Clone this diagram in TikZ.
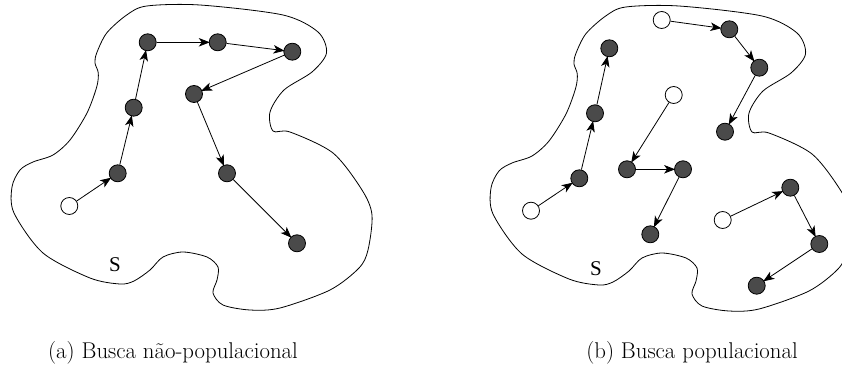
\documentclass[tikz,border=0pt]{standalone}
\usepackage{fontspec}
\newfontfamily\labelfont{Liberation Serif}
\usetikzlibrary{arrows.meta}
\definecolor{dotgray}{HTML}{4A4A4A}
\tikzset{
  sol/.style={circle, draw=black, line width=0.8pt, minimum size=17pt, inner sep=0pt},
  visited/.style={sol, fill=dotgray},
  seed/.style={sol, fill=white},
  move/.style={-{Stealth[length=11pt,width=8.5pt,inset=3pt]}, line width=0.8pt, shorten >=-1pt},
  region/.style={line width=0.8pt},
  regionlabel/.style={font=\labelfont\fontsize{21}{21}\selectfont},
  caption/.style={font=\fontsize{22.8}{25}\selectfont, anchor=base}
}
% outline of the search space S
\newcommand{\searchspace}{
  plot[smooth cycle, tension=0.5] coordinates {
    (146.7,6) (200,5) (283,15) (318,32) (326.5,53) (312,72) (284,90) (270,112)
    (273,131) (290,132) (333,153) (362,190) (372,215) (368,250) (359,268)
    (330,290) (280,308) (250,310) (223,305) (213,293) (217,280) (218,267)
    (207,257) (183,252) (163,257) (150,270) (134,281) (120,284) (90,278)
    (43,253) (14,213) (12,187) (20,170) (33,162) (53,155) (70,140) (87,113)
    (96.7,87) (98.3,73) (95,63) (96.7,53) (106.7,33) (126.7,15)
  }
}
\begin{document}
\begin{tikzpicture}[x=1pt,y=-1pt]
  \useasboundingbox (0,0) rectangle (842,387);
  \begin{scope}
    \clip (0,0) rectangle (842,387);

    % (a) single trajectory
    \draw[region] \searchspace;
    \node[regionlabel] (sa) at (115,265) {S};
    \node[seed]    (p0) at (69.3,206) {};
    \node[visited] (p1) at (117.7,173.3) {};
    \node[visited] (p2) at (133.7,107.7) {};
    \node[visited] (p3) at (147.7,42.3) {};
    \node[visited] (p4) at (217.7,42.3) {};
    \node[visited] (p5) at (292.3,51.7) {};
    \node[visited] (p6) at (194,94) {};
    \node[visited] (p7) at (227,173.3) {};
    \node[visited] (p8) at (297,243.3) {};
    \foreach \a/\b in {p0/p1,p1/p2,p2/p3,p3/p4,p4/p5,p5/p6,p6/p7,p7/p8}
      \draw[move] (\a) -- (\b);

    % (b) population of trajectories
    \begin{scope}[shift={(479,1)}]
      \draw[region] \searchspace;
    \end{scope}
    \node[regionlabel] (sb) at (596,269) {S};

    \node[seed]    (q0) at (531,210.7) {};
    \node[visited] (q1) at (579.3,178.3) {};
    \node[visited] (q2) at (595,113.3) {};
    \node[visited] (q3) at (609.3,48.3) {};

    \node[seed]    (r0) at (661.7,20) {};
    \node[visited] (r1) at (729.3,29.3) {};
    \node[visited] (r2) at (759.3,67.7) {};
    \node[visited] (r3) at (725,131.7) {};

    \node[seed]    (s0) at (673.7,95) {};
    \node[visited] (s1) at (627,169.3) {};
    \node[visited] (s2) at (683,169.3) {};
    \node[visited] (s3) at (650.3,234.3) {};

    \node[seed]    (t0) at (722.7,220) {};
    \node[visited] (t1) at (790.3,187.7) {};
    \node[visited] (t2) at (819.3,244) {};
    \node[visited] (t3) at (756.7,285.7) {};

    \foreach \k in {q,r,s,t}{
      \draw[move] (\k0) -- (\k1);
      \draw[move] (\k1) -- (\k2);
      \draw[move] (\k2) -- (\k3);
    }
  \end{scope}

  % captions
  \node[caption] (capa) at (173,358) {(a) Busca não-populacional};
  \node[caption] (capb) at (692,358) {(b) Busca populacional};
\end{tikzpicture}
\end{document}
